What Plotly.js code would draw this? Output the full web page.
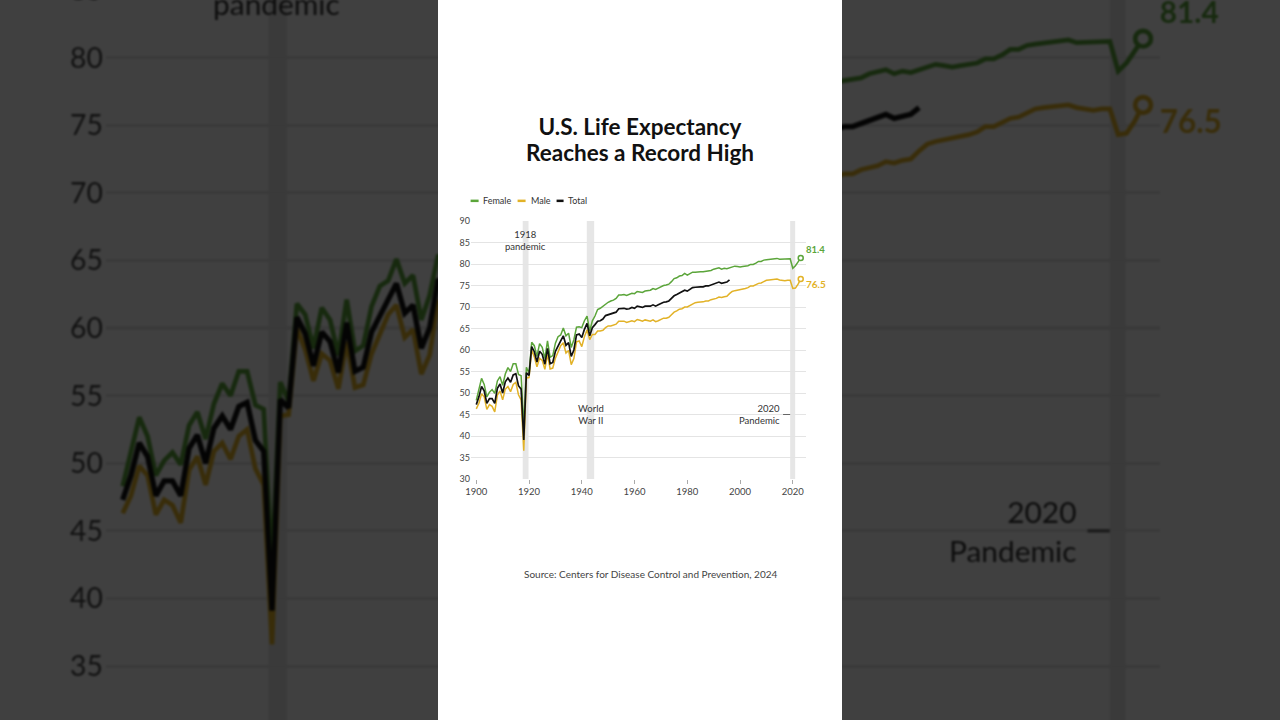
<!DOCTYPE html>
<html>
<head>
<meta charset="utf-8">
<script src="https://cdn.plot.ly/plotly-3.0.1.min.js"></script>
<style>
  html, body { margin:0; padding:0; width:1280px; height:720px; overflow:hidden; background:#fff; }
  #stage { position:absolute; left:0; top:0; width:1280px; height:720px; overflow:hidden; background:#fff; }
  #bg { position:absolute; left:0; top:0; width:404px; height:720px; transform-origin:0 0; background:#fff;
        transform: translate(2.3px, -772.7px) scale(3.145); filter: blur(0.3px); }
  #shade { position:absolute; left:0; top:0; width:1280px; height:720px; background:rgba(0,0,0,0.75); }
  #panel { position:absolute; left:438px; top:0; width:404px; height:720px; background:#fff; }
</style>
</head>
<body>
<div id="stage">
  <div id="bg"></div>
  <div id="shade"></div>
  <div id="panel"></div>
</div>
<script>
// ---- data ----
const years = [];
for (let y = 1900; y <= 2023; y++) years.push(y);

const female = [48.3,50.6,53.4,52.0,49.1,50.2,50.8,49.9,52.8,53.8,
  51.8,54.4,55.9,55.0,56.8,56.8,54.3,54.0,42.2,56.0,
  54.6,61.8,61.0,58.5,61.5,60.6,58.0,62.1,58.3,58.7,
  61.6,63.1,63.5,65.1,63.3,63.9,60.6,62.4,65.3,65.4,
  65.2,66.8,67.9,64.4,66.8,67.9,69.4,69.7,70.2,70.7,
  71.1,71.4,71.6,72.0,72.8,72.8,72.9,72.7,72.9,73.2,
  73.1,73.6,73.5,73.4,73.7,73.8,73.9,74.3,74.1,74.4,
  74.7,75.0,75.1,75.3,75.9,76.6,76.8,77.2,77.3,77.8,
  77.4,77.8,78.1,78.1,78.2,78.2,78.2,78.3,78.3,78.5,
  78.8,78.9,79.1,78.8,79.0,78.9,79.1,79.4,79.5,79.4,
  79.3,79.4,79.5,79.6,79.9,79.9,80.2,80.6,80.6,80.9,
  81.0,81.1,81.2,81.2,81.3,81.1,81.1,81.1,81.2,81.2,
  79.0,79.6,80.5,81.4];

const male = [46.3,47.6,49.8,49.1,46.2,47.3,46.9,45.6,49.5,50.5,
  48.4,50.9,51.5,50.3,52.0,52.5,49.6,48.4,36.6,53.5,
  53.6,60.0,58.4,56.1,58.1,57.6,55.5,59.0,55.6,55.8,
  58.1,59.4,61.0,61.7,59.3,59.9,56.6,58.0,61.9,62.1,
  60.8,63.1,64.7,62.4,63.6,63.6,64.4,64.4,64.6,65.2,
  65.6,65.6,65.8,66.0,66.7,66.7,66.7,66.4,66.6,66.8,
  66.6,67.1,66.9,66.7,67.0,66.8,66.7,67.0,66.6,66.8,
  67.1,67.4,67.4,67.6,68.2,68.8,69.1,69.5,69.6,70.0,
  70.0,70.4,70.8,71.0,71.1,71.1,71.2,71.4,71.4,71.7,
  71.8,72.0,72.3,72.2,72.4,72.5,73.1,73.6,73.8,73.9,
  74.1,74.2,74.3,74.5,74.9,74.9,75.2,75.5,75.6,76.0,
  76.2,76.3,76.4,76.4,76.5,76.3,76.2,76.1,76.2,76.2,
  74.3,74.4,75.3,76.5];

const totalYears = years.slice(0, 97); // 1900-1996
const total = [47.3,49.1,51.5,50.5,47.6,48.7,48.7,47.6,51.1,52.1,
  50.0,52.6,53.5,52.5,54.2,54.5,51.7,50.9,39.1,54.7,
  54.1,60.8,59.6,57.2,59.7,59.0,56.7,60.4,56.8,57.1,
  59.7,61.1,62.1,63.3,61.1,61.7,58.5,60.0,63.5,63.7,
  62.9,64.8,66.2,63.3,65.2,65.9,66.7,66.8,67.2,68.0,
  68.2,68.4,68.6,68.8,69.6,69.6,69.7,69.5,69.6,69.9,
  69.7,70.2,70.1,69.9,70.2,70.2,70.2,70.5,70.2,70.5,
  70.8,71.1,71.2,71.4,72.0,72.6,72.9,73.3,73.5,73.9,
  73.7,74.1,74.5,74.6,74.7,74.7,74.7,74.9,74.9,75.1,
  75.4,75.5,75.8,75.5,75.7,75.8,76.3];

const seriesNames = ["Female", "Male", "Total"];
const titleLines = ["U.S. Life Expectancy", "Reaches a Record High"];
const endLabels = ["81.4", "76.5"];
const bands = [[1917.6, 1919.8], [1941.9, 1944.7], [2019.0, 2020.9]];
const yTicks = [30,35,40,45,50,55,60,65,70,75,80,85,90];
const xTicks = [1900,1920,1940,1960,1980,2000,2020];

// ---- styling ----
const GREEN = "#5ba53a", GOLD = "#e2b227", BLACK = "#111111";
const FONT = "Lato, 'Noto Sans', sans-serif";
const W = 404, H = 720;
const M = {l: 33.4, r: 35.5, t: 220.7, b: 240.7};
const PW = W - M.l - M.r, PH = H - M.t - M.b;
const px = x => (x - 438 - M.l) / PW;       // absolute px -> paper x
const py = y => (H - M.b - y) / PH;         // absolute px -> paper y

function makeFig() {
  const traces = [
    {x: years, y: female, name: seriesNames[0], mode: "lines", line: {color: GREEN, width: 1.5}},
    {x: years, y: male, name: seriesNames[1], mode: "lines", line: {color: GOLD, width: 1.5}},
    {x: totalYears, y: total, name: seriesNames[2], mode: "lines", line: {color: BLACK, width: 1.7}},
    {x: [years[years.length-1]], y: [female[female.length-1]], mode: "markers",
     marker: {symbol: "circle", size: 5, color: "#fff", line: {color: GREEN, width: 1.5}}},
    {x: [years[years.length-1]], y: [male[male.length-1]], mode: "markers",
     marker: {symbol: "circle", size: 5, color: "#fff", line: {color: GOLD, width: 1.5}}}
  ];
  const shapes = bands.map(b => ({type: "rect", xref: "x", yref: "paper", x0: b[0], x1: b[1], y0: 0, y1: 1,
    fillcolor: "#e6e6e6", line: {width: 0}, layer: "below"}));
  shapes.push({type: "line", xref: "x", yref: "y", x0: 2016.3, x1: 2019.0, y0: 45, y1: 45,
    line: {color: "#666", width: 1}});
  // legend swatches
  const legend = [[471, 479, 481], [518, 526, 529], [557, 564, 566]];
  const lcol = [GREEN, GOLD, BLACK];
  legend.forEach((l, i) => {
    shapes.push({type: "line", xref: "paper", yref: "paper", x0: px(l[0]), x1: px(l[1]),
      y0: py(200.5), y1: py(200.5), line: {color: lcol[i], width: 2.5}});
  });
  const ann = [];
  legend.forEach((l, i) => ann.push({xref: "paper", yref: "paper", x: px(l[2]), y: py(200.5),
    xanchor: "left", yanchor: "middle", showarrow: false, text: seriesNames[i],
    font: {family: FONT, size: 9, color: "#333"}}));
  // title second line
  ann.push({xref: "paper", yref: "paper", x: px(640), y: py(152.5), xanchor: "center", yanchor: "middle",
    showarrow: false, text: "<b>" + titleLines[1] + "</b>", font: {family: FONT, size: 22.5, color: "#111"}});
  ann.push({xref: "x", yref: "y", x: 1918.7, y: 85.5, text: "1918<br>pandemic", showarrow: false,
    xanchor: "center", yanchor: "middle", font: {family: FONT, size: 9.5, color: "#333"}});
  ann.push({xref: "x", yref: "y", x: 1943.4, y: 45, text: "World<br>War II", showarrow: false,
    xanchor: "center", yanchor: "middle", font: {family: FONT, size: 9.5, color: "#333"}});
  ann.push({xref: "x", yref: "y", x: 2016.0, y: 45, text: "2020<br>Pandemic", showarrow: false,
    xanchor: "right", yanchor: "middle", align: "right", font: {family: FONT, size: 9.5, color: "#333"}});
  ann.push({xref: "x", yref: "y", x: 2024.2, y: 83.3, text: "<b>" + endLabels[0] + "</b>", showarrow: false,
    xanchor: "left", yanchor: "middle", font: {family: FONT, size: 9.5, color: GREEN}});
  ann.push({xref: "x", yref: "y", x: 2024.2, y: 75.3, text: "<b>" + endLabels[1] + "</b>", showarrow: false,
    xanchor: "left", yanchor: "middle", font: {family: FONT, size: 10, color: GOLD}});
  ann.push({xref: "paper", yref: "paper", x: px(651.5), y: py(574.5), xanchor: "center", yanchor: "middle",
    showarrow: false, text: "Source: Centers for Disease Control and Prevention, 2024",
    font: {family: FONT, size: 10, color: "#444"}});

  const layout = {
    width: W, height: H, margin: M,
    paper_bgcolor: "#fff", plot_bgcolor: "#fff",
    showlegend: false,
    title: {text: "<b>" + titleLines[0] + "</b>", x: 0.5, xanchor: "center",
      y: 1 - 127.5/720, yanchor: "middle", font: {family: FONT, size: 22.5, color: "#111"}},
    xaxis: {range: [1898, 2025], tickvals: xTicks, ticktext: xTicks.map(String), showgrid: false,
      zeroline: false, showline: false, ticks: "outside", ticklen: 4, tickcolor: "#aaa", tickwidth: 1,
      tickfont: {family: FONT, size: 9.5, color: "#444"}},
    yaxis: {range: [30, 90], tickvals: yTicks, ticktext: yTicks.map(String), showgrid: true,
      gridcolor: "#e4e4e4", gridwidth: 1, zeroline: false, showline: false, ticks: "",
      tickfont: {family: FONT, size: 9, color: "#444"}},
    shapes: shapes, annotations: ann
  };
  return {data: traces, layout: layout};
}

const f1 = makeFig();
Plotly.newPlot("bg", f1.data, f1.layout, {staticPlot: true, displayModeBar: false});
const f2 = makeFig();
Plotly.newPlot("panel", f2.data, f2.layout, {staticPlot: true, displayModeBar: false});
</script>
</body>
</html>
